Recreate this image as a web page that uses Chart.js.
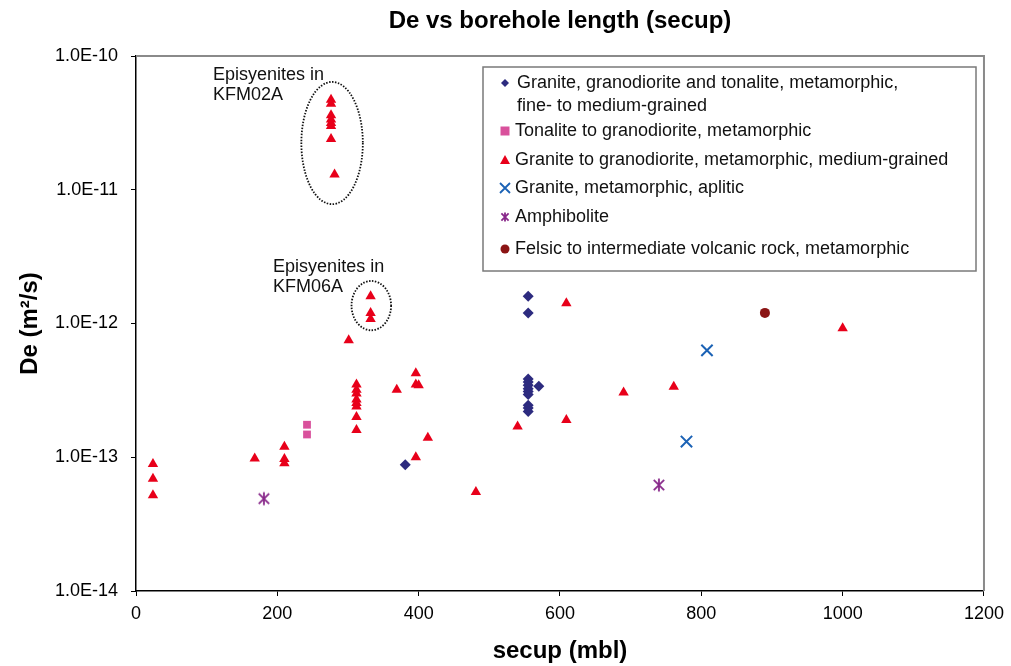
<!DOCTYPE html>
<html>
<head>
<meta charset="utf-8">
<script src="https://cdn.jsdelivr.net/npm/chart.js@4/dist/chart.umd.min.js"></script>
<style>
  html, body { margin: 0; background: #fff; }
</style>
</head>
<body>
<canvas id="chart" width="1011" height="666"></canvas>
<script>
// secup (mbl) and De (m2/s) per rock type
const graniteFineX = [555, 555, 555, 555, 555, 555, 555, 555, 555, 555, 555, 570, 381];
const graniteFineY = [1.6e-12, 1.2e-12, 3.85e-13, 3.65e-13, 3.45e-13, 3.25e-13, 3.1e-13, 2.95e-13, 2.45e-13, 2.33e-13, 2.2e-13, 3.4e-13, 8.8e-14];

const tonaliteX = [242, 242];
const tonaliteY = [1.75e-13, 1.48e-13];

const graniteMedX = [24, 24, 24, 168, 210, 210, 210,
  276, 276, 276, 276, 276, 276, 276, 281,
  301, 312, 312, 312, 312, 312, 312, 312, 312,
  332, 332, 332, 369, 396, 396, 400, 396, 413, 481, 540, 609, 609, 690, 761, 1000];
const graniteMedY = [8.9e-14, 6.9e-14, 5.2e-14, 9.8e-14, 1.2e-13, 9.7e-14, 9.0e-14,
  4.7e-11, 4.4e-11, 3.6e-11, 3.35e-11, 3.15e-11, 3.0e-11, 2.4e-11, 1.3e-11,
  7.5e-13, 3.5e-13, 3.2e-13, 3.0e-13, 2.7e-13, 2.55e-13, 2.4e-13, 2.0e-13, 1.6e-13,
  1.6e-12, 1.2e-12, 1.08e-12, 3.2e-13, 4.25e-13, 3.5e-13, 3.45e-13, 1.0e-13, 1.4e-13, 5.5e-14, 1.7e-13, 1.42e-12, 1.9e-13, 3.05e-13, 3.37e-13, 9.2e-13];

const apliticX = [779, 808];
const apliticY = [1.31e-13, 6.3e-13];

const amphiboliteX = [181, 740];
const amphiboliteY = [4.9e-14, 6.2e-14];

const felsicX = [890];
const felsicY = [1.2e-12];

const seriesNames = [
  'Granite, granodiorite and tonalite, metamorphic,\nfine- to medium-grained',
  'Tonalite to granodiorite, metamorphic',
  'Granite to granodiorite, metamorphic, medium-grained',
  'Granite, metamorphic, aplitic',
  'Amphibolite',
  'Felsic to intermediate volcanic rock, metamorphic',
];

const yTicks      = [1e-14, 1e-13, 1e-12, 1e-11, 1e-10];
const yTickLabels = ['1.0E-14', '1.0E-13', '1.0E-12', '1.0E-11', '1.0E-10'];

const chartTitle = 'De vs borehole length (secup)';

const FONT = "'Liberation Sans', Arial, sans-serif";

const NAVY   = '#2d2b7f';
const PINK   = '#d9519c';
const RED    = '#e8001a';
const BLUE   = '#1b62b5';
const PURPLE = '#88288a';
const DKRED  = '#8b1414';

const pts = (xs, ys) => xs.map((x, i) => ({ x, y: ys[i] }));

// Excel style asterisk: X plus a vertical bar
function asteriskImg(size, color) {
  const c = document.createElement('canvas');
  c.width = size; c.height = size;
  const g = c.getContext('2d');
  const m = size / 2, r = size / 2 - 1.5;
  g.strokeStyle = color;
  g.lineWidth = 1.8;
  g.beginPath();
  g.moveTo(m - r * 0.8, m - r * 0.8); g.lineTo(m + r * 0.8, m + r * 0.8);
  g.moveTo(m + r * 0.8, m - r * 0.8); g.lineTo(m - r * 0.8, m + r * 0.8);
  g.moveTo(m, m - r); g.lineTo(m, m + r);
  g.stroke();
  return c;
}
const starPoint  = asteriskImg(16, PURPLE);
const starLegend = asteriskImg(12, PURPLE);

// dotted ellipses + notes round the episyenite samples
const ellipses = [
  { x0: 234, x1: 321, y0: 6.4e-11, y1: 7.8e-12 },
  { x0: 305, x1: 361, y0: 2.08e-12, y1: 8.9e-13 },
];
const notes = [
  { x: 109, y: 7.2e-11, lines: ['Episyenites in', 'KFM02A'] },
  { x: 194, y: 2.66e-12, lines: ['Episyenites in', 'KFM06A'] },
];

// title centred over the plot area, plus grey top/right frame
const frame = {
  id: 'frame',
  beforeDatasetsDraw(chart) {
    const { ctx, chartArea: a } = chart;
    ctx.save();
    ctx.fillStyle = '#000';
    ctx.font = `bold 24px ${FONT}`;
    ctx.textAlign = 'center';
    ctx.textBaseline = 'middle';
    ctx.fillText(chartTitle, (a.left + a.right) / 2, 21);
    ctx.strokeStyle = '#8a8a8a';
    ctx.lineWidth = 2;
    ctx.beginPath();
    ctx.moveTo(a.left, a.top);
    ctx.lineTo(a.right, a.top);
    ctx.lineTo(a.right, a.bottom);
    ctx.stroke();
    ctx.restore();
  },
};

const marks = {
  id: 'marks',
  afterDatasetsDraw(chart) {
    const { ctx, scales: { x, y } } = chart;
    ctx.save();
    ctx.strokeStyle = '#111';
    ctx.lineWidth = 1.8;
    ctx.setLineDash([1.5, 1.5]);
    ellipses.forEach(e => {
      const l = x.getPixelForValue(e.x0), r = x.getPixelForValue(e.x1);
      const t = y.getPixelForValue(e.y0), b = y.getPixelForValue(e.y1);
      ctx.beginPath();
      ctx.ellipse((l + r) / 2, (t + b) / 2, (r - l) / 2, (b - t) / 2, 0, 0, Math.PI * 2);
      ctx.stroke();
    });
    ctx.setLineDash([]);
    ctx.fillStyle = '#111';
    ctx.font = `18px ${FONT}`;
    ctx.textBaseline = 'middle';
    notes.forEach(n => {
      const px = x.getPixelForValue(n.x), py = y.getPixelForValue(n.y);
      n.lines.forEach((s, i) => ctx.fillText(s, px, py + i * 20));
    });
    ctx.restore();
  },
};

function legendMarker(ctx, ds, cx, cy) {
  ctx.save();
  ctx.fillStyle = ds.backgroundColor;
  ctx.strokeStyle = ds.borderColor;
  ctx.beginPath();
  switch (ds.key) {
    case 'diamond':
      ctx.moveTo(cx, cy - 4); ctx.lineTo(cx + 4, cy); ctx.lineTo(cx, cy + 4); ctx.lineTo(cx - 4, cy);
      ctx.closePath(); ctx.fill(); break;
    case 'square':
      ctx.rect(cx - 4.5, cy - 4.5, 9, 9); ctx.fill(); break;
    case 'triangle':
      ctx.moveTo(cx, cy - 5); ctx.lineTo(cx + 5, cy + 4); ctx.lineTo(cx - 5, cy + 4);
      ctx.closePath(); ctx.fill(); break;
    case 'x':
      ctx.lineWidth = 1.8;
      ctx.moveTo(cx - 5, cy - 5); ctx.lineTo(cx + 5, cy + 5);
      ctx.moveTo(cx + 5, cy - 5); ctx.lineTo(cx - 5, cy + 5);
      ctx.stroke(); break;
    case 'star':
      ctx.drawImage(starLegend, cx - 6, cy - 6); break;
    case 'circle':
      ctx.arc(cx, cy, 4.5, 0, Math.PI * 2); ctx.fill(); break;
  }
  ctx.restore();
}

const boxLegend = {
  id: 'boxLegend',
  afterDraw(chart) {
    const { ctx } = chart;
    const rows = [83, 131, 160, 188, 217, 249];
    ctx.save();
    ctx.fillStyle = '#fff';
    ctx.strokeStyle = '#7a7a7a';
    ctx.lineWidth = 1.5;
    ctx.fillRect(483, 67, 493, 204);
    ctx.strokeRect(483, 67, 493, 204);
    ctx.font = `18px ${FONT}`;
    ctx.textBaseline = 'middle';
    chart.data.datasets.forEach((ds, i) => {
      legendMarker(ctx, ds, 505, rows[i]);
      ctx.fillStyle = '#111';
      ds.label.split('\n').forEach((s, j) => ctx.fillText(s, i === 0 ? 517 : 515, rows[i] + j * 23));
    });
    ctx.restore();
  },
};

new Chart(document.getElementById('chart'), {
  type: 'scatter',
  data: {
    datasets: [
      { key: 'diamond',  label: seriesNames[0], data: pts(graniteFineX, graniteFineY),
        pointStyle: 'rectRot', pointRadius: 5.5, backgroundColor: NAVY, borderColor: NAVY, borderWidth: 0 },
      { key: 'square',   label: seriesNames[1], data: pts(tonaliteX, tonaliteY),
        pointStyle: 'rect', pointRadius: 5.5, backgroundColor: PINK, borderColor: PINK, borderWidth: 0 },
      { key: 'triangle', label: seriesNames[2], data: pts(graniteMedX, graniteMedY),
        pointStyle: 'triangle', pointRadius: 6, backgroundColor: RED, borderColor: RED, borderWidth: 0 },
      { key: 'x',        label: seriesNames[3], data: pts(apliticX, apliticY),
        pointStyle: 'crossRot', pointRadius: 8, backgroundColor: BLUE, borderColor: BLUE, borderWidth: 2 },
      { key: 'star',     label: seriesNames[4], data: pts(amphiboliteX, amphiboliteY),
        pointStyle: starPoint, backgroundColor: PURPLE, borderColor: PURPLE },
      { key: 'circle',   label: seriesNames[5], data: pts(felsicX, felsicY),
        pointStyle: 'circle', pointRadius: 5, backgroundColor: DKRED, borderColor: DKRED, borderWidth: 0 },
    ],
  },
  options: {
    responsive: false,
    animation: false,
    events: [],
    layout: { padding: { left: 0, right: 26, top: 56, bottom: 0 } },
    plugins: {
      legend: { display: false },
      tooltip: { enabled: false },
      title: { display: false },
    },
    scales: {
      x: {
        type: 'linear',
        min: 0, max: 1200,
        afterFit: s => { s.height = 75; },
        grid: { display: true, drawOnChartArea: false, drawTicks: true, tickLength: 5, color: '#000' },
        border: { display: true, color: '#000', width: 1.5 },
        ticks: {
          stepSize: 200, color: '#000', padding: 7, font: { family: FONT, size: 18 },
          callback: v => String(v),
        },
        title: {
          display: true, text: 'secup (mbl)', color: '#000',
          font: { family: FONT, size: 24, weight: 'bold' }, padding: { top: 0, bottom: 0 },
        },
      },
      y: {
        type: 'logarithmic',
        min: 1e-14, max: 1e-10,
        afterFit: s => { s.width = 136; },
        afterBuildTicks: s => { s.ticks = yTicks.map(v => ({ value: v })); },
        grid: { display: true, drawOnChartArea: false, drawTicks: true, tickLength: 5, color: '#000' },
        border: { display: true, color: '#000', width: 1.5 },
        ticks: {
          color: '#000', padding: 13, autoSkip: false,
          font: { family: FONT, size: 18 },
          callback: v => yTickLabels[yTicks.findIndex(t => Math.abs(Math.log10(t) - Math.log10(v)) < 1e-6)] ?? '',
        },
        title: {
          display: true, text: 'De (m²/s)', color: '#000',
          font: { family: FONT, size: 24, weight: 'bold' }, padding: { top: 15.6, bottom: 0 },
        },
      },
    },
  },
  plugins: [frame, marks, boxLegend],
});
</script>
</body>
</html>
